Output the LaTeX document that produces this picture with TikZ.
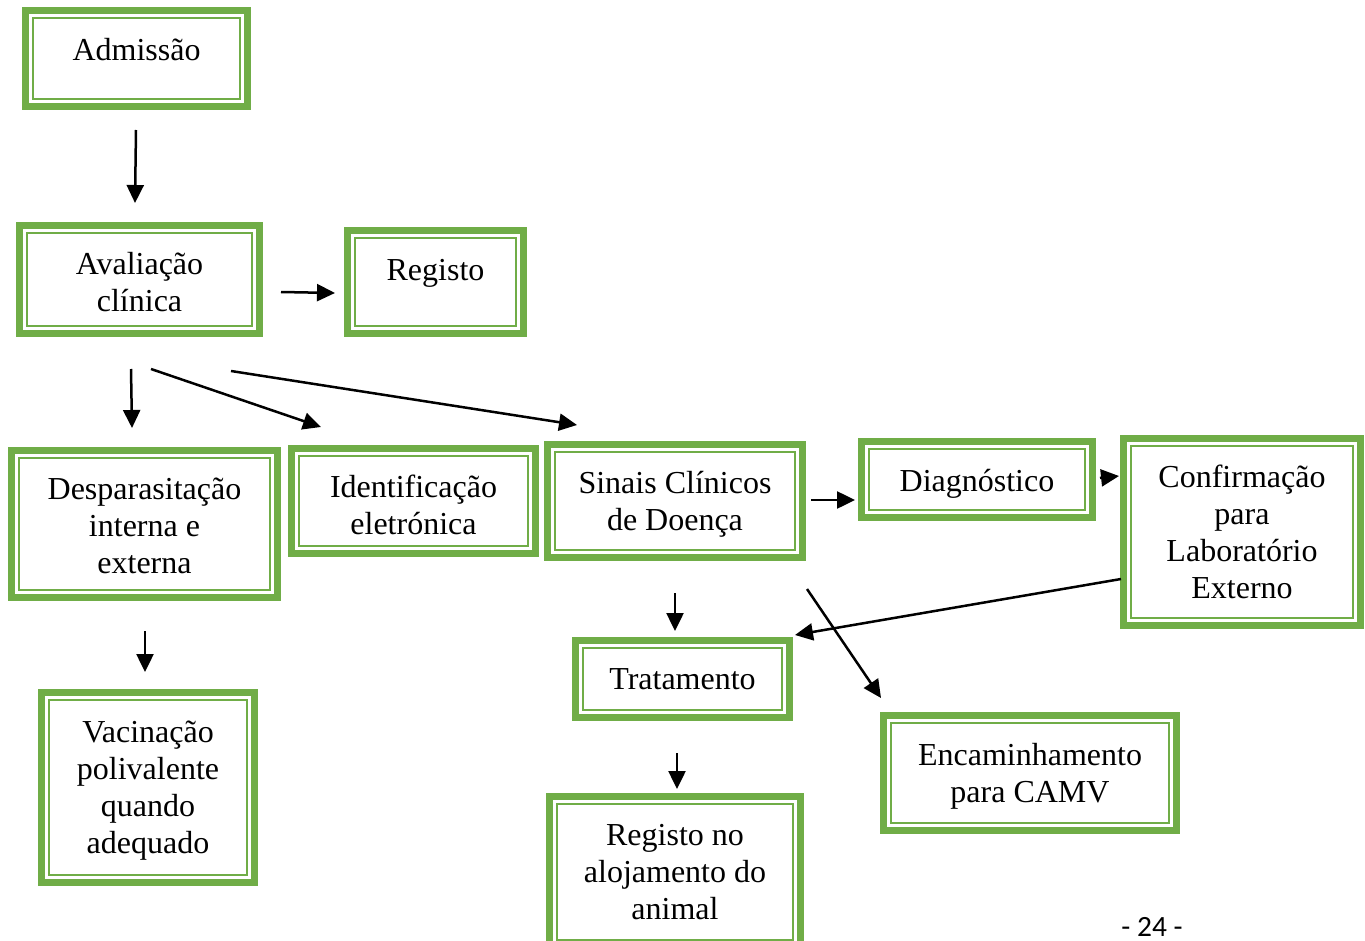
\documentclass[tikz,border=0pt]{standalone}
\usepackage{fontspec}
\setmainfont{Liberation Serif}
\newfontfamily\pagefont{Carlito}
\usetikzlibrary{calc,positioning,arrows.meta}
\definecolor{boxgreen}{RGB}{112,173,71}
\tikzstyle{box}   = [rectangle, draw=boxgreen, line width=3.5pt, fill=white,
                     align=center, inner sep=0pt, outer sep=0pt, text=black,
                     font=\fontsize{16}{18.5}\selectfont]
\tikzstyle{inner} = [draw=boxgreen, line width=1pt]
\tikzstyle{arrow} = [line width=1.25pt, -{Triangle[length=9pt,width=8.5pt]}]
\newcommand{\topstrut}[1]{\rule{0pt}{#1}}

\begin{document}
\begin{tikzpicture}[x=0.5pt, y=-0.5pt]
	\useasboundingbox (0,0) rectangle (1365,941);
	\clip (0,0) rectangle (1365,941);
		% boxes
		\node[box, minimum width=111pt, minimum height=48pt, text height=12pt, text depth=9.9pt] (adm) at (136.5,58.5) {Admissão};
		\node[box, minimum width=120pt, minimum height=54pt] (aval) at (139.5,279.5) {\topstrut{14pt}Avaliação\\clínica};
		\node[box, minimum width=88pt, minimum height=51.5pt, text height=12pt, text depth=13.4pt] (reg) at (435.5,282) {Registo};
		\node[box, minimum width=133pt, minimum height=73.5pt] (desp) at (144.5,524) {\topstrut{13pt}Desparasitação\\interna e\\externa};
		\node[box, minimum width=122pt, minimum height=52.5pt] (ident) at (413.5,501) {\topstrut{15pt}Identificação\\eletrónica};
		\node[box, minimum width=127.5pt, minimum height=56.5pt] (sinais) at (675,501) {\topstrut{14pt}Sinais Clínicos\\de Doença};
		\node[box, minimum width=115.5pt, minimum height=38pt] (diag) at (977,479.5) {\topstrut{15pt}Diagnóstico};
		\node[box, minimum width=118.5pt, minimum height=93.5pt] (conf) at (1242,532) {Confirmação\\para\\Laboratório\\Externo};
		\node[box, minimum width=107pt, minimum height=38.5pt] (trat) at (682.5,679) {Tratamento};
		\node[box, minimum width=106.5pt, minimum height=95pt] (vac) at (148,787.5) {\topstrut{14pt}Vacinação\\polivalente\\quando\\adequado};
		\node[box, minimum width=146.5pt, minimum height=57.5pt] (enc) at (1030,773) {\topstrut{14pt}Encaminhamento\\para CAMV};
		\node[box, minimum width=125.5pt, minimum height=75.5pt] (regal) at (675,872) {Registo no\\alojamento do\\animal};

		\foreach \n in {adm,aval,reg,desp,ident,sinais,diag,conf,trat,vac,enc,regal}
			\draw[inner] ($(\n.north west)+(7.5,7.5)$) rectangle ($(\n.south east)+(-7.5,-7.5)$);

		% arrows
		\draw[arrow] ($(adm.south)+(-0.5,23.5)$) -- ($(aval.north)+(-4.5,-22.5)$);
		\draw[arrow] ($(aval.east)+(21.5,12.5)$) -- ($(reg.west)+(-12.5,11)$);
		\draw[arrow] ($(aval.south)+(-8.5,35.5)$) -- ($(desp.north)+(-12.5,-22.5)$);
		\draw[arrow] ($(aval.south)+(11.5,35.5)$) -- ($(ident.north)+(-92.5,-21.5)$);
		\draw[arrow] ($(aval.south)+(91.5,37.5)$) -- ($(sinais.north)+(-98,-19.5)$);
		\draw[arrow] ($(sinais.east)+(8.5,-1)$) -- ($(diag.west)+(-6.5,20.5)$);
		\draw[arrow] ($(diag.east)+(7.5,-1.5)$) -- ($(conf.west)+(-4.5,-56)$);
		\draw[arrow] ($(conf.west)+(-2.5,47)$) -- ($(trat.north east)+(5.5,-5.5)$);
		\draw[arrow] ($(sinais.south)+(0,35.5)$) -- ($(trat.north)+(-7.5,-9.5)$);
		\draw[arrow] ($(sinais.south east)+(4.5,31.5)$) -- ($(enc.north west)+(-2.5,-17.5)$);
		\draw[arrow] ($(desp.south)+(0.5,33.5)$) -- ($(vac.north)+(-3,-20.5)$);
		\draw[arrow] ($(trat.south)+(-5.5,35.5)$) -- ($(regal.north)+(2,-7.5)$);

		\node[font=\pagefont\fontsize{14.7}{17}\selectfont] (pagenum) at (1152,927) {- 24 -};
	\end{tikzpicture}
\end{document}
